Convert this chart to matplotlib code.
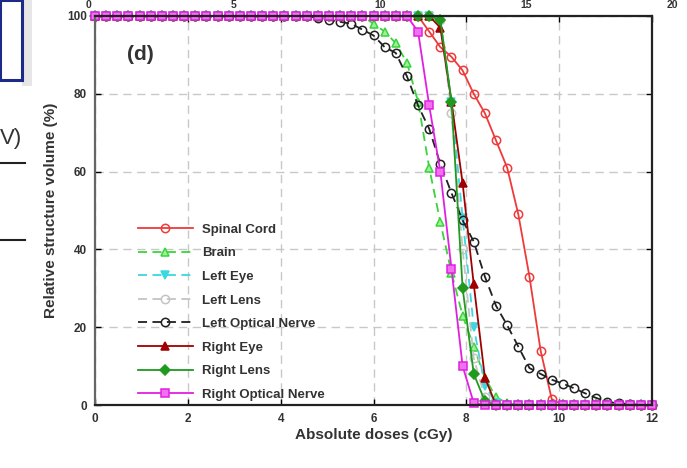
import numpy as np
import matplotlib
matplotlib.use("Agg")
import matplotlib.pyplot as plt
from matplotlib.patches import Rectangle
from matplotlib.lines import Line2D

plt.rcParams['font.family'] = ['Liberation Sans', 'DejaVu Sans']

#%% Data
dose = [0.0, 0.24, 0.48, 0.72, 0.96, 1.2, 1.44, 1.68, 1.92, 2.16, 2.4, 2.64, 2.88,
        3.12, 3.36, 3.6, 3.84, 4.08, 4.32, 4.56, 4.8, 5.04, 5.28, 5.52, 5.76, 6.0,
        6.24, 6.48, 6.72, 6.96, 7.2, 7.44, 7.68, 7.92, 8.16, 8.4, 8.64, 8.88, 9.12,
        9.36, 9.6, 9.84, 10.08, 10.32, 10.56, 10.8, 11.04, 11.28, 11.52, 11.76, 12.0]

# volumes from dose 6.0 onward (index 25); everything below is 100 %
spinal_cord = [100, 100, 100, 100, 100, 96, 92, 89.5, 86, 80, 75, 68, 61, 49, 33, 14,
               1.5, 0, 0, 0, 0, 0, 0, 0, 0, 0]
brain = [98, 96, 93, 88, 78, 61, 47, 34, 23, 15, 7, 2, 0.5, 0, 0, 0,
         0, 0, 0, 0, 0, 0, 0, 0, 0, 0]
left_eye = [100, 100, 100, 100, 100, 100, 99, 78, 48, 20, 5, 0.5, 0, 0, 0, 0,
            0, 0, 0, 0, 0, 0, 0, 0, 0, 0]
left_lens = [100, 100, 100, 100, 100, 100, 99, 75, 40, 12, 2, 0, 0, 0, 0, 0,
             0, 0, 0, 0, 0, 0, 0, 0, 0, 0]
left_optic = [95, 92, 90.5, 84.5, 77, 71, 62, 54.5, 47.5, 42, 33, 25.5, 20.5, 15, 9.5, 8,
              6.5, 5.5, 4.3, 3, 1.8, 0.8, 0.4, 0.2, 0, 0]
left_optic_low = [100, 100, 100, 100, 100, 100, 100, 100, 100, 100, 100, 100, 100, 100,
                  100, 100, 100, 100, 100, 100, 99.5, 99, 98.5, 98, 96.5]
right_eye = [100, 100, 100, 100, 100, 100, 97, 78, 57, 31, 7, 0, 0, 0, 0, 0,
             0, 0, 0, 0, 0, 0, 0, 0, 0, 0]
right_lens = [100, 100, 100, 100, 100, 100, 99, 78, 30, 8, 1, 0, 0, 0, 0, 0,
              0, 0, 0, 0, 0, 0, 0, 0, 0, 0]
right_optic = [100, 100, 100, 100, 96, 77, 60, 35, 10, 0.5, 0, 0, 0, 0, 0, 0,
               0, 0, 0, 0, 0, 0, 0, 0, 0, 0]

plateau = [100] * 25

series = [
    # label, volumes, color, linestyle, marker, marker face
    ("Spinal Cord", plateau + spinal_cord, '#ee3a3a', '-', 'o', 'none'),
    ("Brain", plateau + brain, '#3ad43a', '--', '^', '#9cf09c'),
    ("Left Eye", plateau + left_eye, '#3ad8e0', '--', 'v', '#3ad8e0'),
    ("Left Lens", plateau + left_lens, '#c4c4c4', '--', 'o', 'none'),
    ("Left Optical Nerve", left_optic_low + left_optic, '#202020', '--', 'o', 'none'),
    ("Right Eye", plateau + right_eye, '#a00000', '-', '^', '#a00000'),
    ("Right Lens", plateau + right_lens, '#1f9a1f', '-', 'D', '#1f9a1f'),
    ("Right Optical Nerve", plateau + right_optic, '#e020e0', '-', 's', '#f070f0'),
]

#%% Plot
fig = plt.figure(figsize=(6.87, 4.68), dpi=100)
ax = fig.add_axes([95/687, 63/468, 557/687, 389/468])

for label, vol, c, ls, mk, mfc in series:
    ax.plot(dose, vol, color=c, ls=ls, lw=1.3, marker=mk, ms=6 if mk != 'D' else 4.8,
            mfc=mfc, mec=c, mew=1.1, label=label, clip_on=False,
            dashes=(5, 3) if ls == '--' else (None, None))

ax.set_xlim(0, 12)
ax.set_ylim(0, 100)
ax.set_xticks([0, 2, 4, 6, 8, 10, 12])
ax.set_yticks([0, 20, 40, 60, 80, 100])
ax.grid(True, color='#c8c8c8', ls=(0, (6, 4)), lw=1)
ax.tick_params(direction='in', top=True, right=True, length=4, width=1,
               labelsize=8.5, labelcolor='#333333', pad=6)
for t in ax.get_xticklabels() + ax.get_yticklabels():
    t.set_fontweight('bold')
for s in ax.spines.values():
    s.set_linewidth(1.6)
    s.set_color('#222222')
ax.spines['left'].set_color('#666666')

ax.set_xlabel("Absolute doses (cGy)", fontsize=11, fontweight='bold', color='#333333', labelpad=2)
ax.set_ylabel("Relative structure volume (%)", fontsize=11, fontweight='bold',
              color='#333333', labelpad=6)

ax.text(0.97, 90, "(d)", fontsize=15, fontweight='bold', color='#333333',
        ha='center', va='center')

leg = ax.legend(loc='upper left', bbox_to_anchor=(0.055, 0.497), frameon=False,
                handlelength=4.2, labelspacing=0.86, handletextpad=0.7,
                prop={'size': 9.5, 'weight': 'bold'})
for t in leg.get_texts():
    t.set_color('#333333')

#%% Stray pieces of neighbouring panels around the crop
fig.patches.append(Rectangle((0, 388/468), 22/687, 80/468, transform=fig.transFigure,
                             facecolor='white', edgecolor='#1c2a8a', lw=2.2))
fig.patches.append(Rectangle((22/687, 382/468), 10/687, 86/468, transform=fig.transFigure,
                             facecolor='#e6e6e6', edgecolor='none', zorder=-1))
fig.text(0.0, 1 - 138/468, "V)", fontsize=16, color='#333333', va='center', ha='left')
fig.lines.append(Line2D([0, 25/687], [1 - 163/468] * 2, transform=fig.transFigure,
                        color='#222222', lw=1.5))
fig.lines.append(Line2D([0, 25/687], [1 - 240/468] * 2, transform=fig.transFigure,
                        color='#222222', lw=1.5))
top_labels = ["0", "5", "10", "15", "20"]
for i, s in enumerate(top_labels):
    fig.text((88 + i * 146) / 687, 0.999, s, fontsize=7.5, fontweight='bold',
             color='#333333', ha='center', va='top')

fig.savefig("out.png", dpi=100)
